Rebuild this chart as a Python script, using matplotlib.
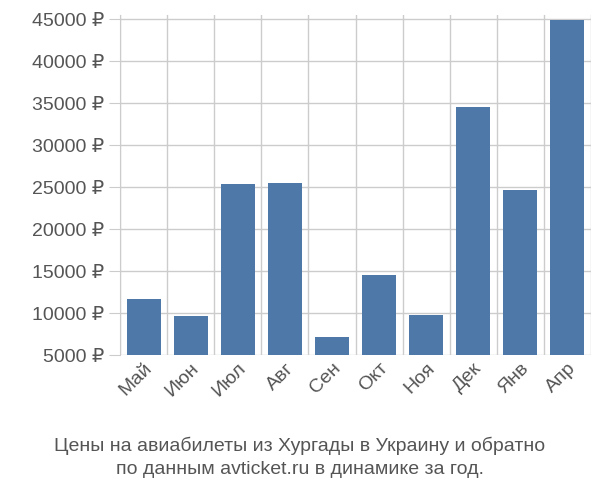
import matplotlib.pyplot as plt
import numpy as np

plt.rcParams['font.family'] = ['Liberation Sans', 'DejaVu Sans']

months = ['Май', 'Июн', 'Июл', 'Авг', 'Сен', 'Окт', 'Ноя', 'Дек', 'Янв', 'Апр']
prices = [11700, 9600, 25350, 25450, 7100, 14500, 9800, 34500, 24650, 44850]
yticks = [5000, 10000, 15000, 20000, 25000, 30000, 35000, 40000, 45000]

fig = plt.figure(figsize=(6, 5), dpi=100)
ax = fig.add_axes([0.2, 0.29, 0.785, 0.68])

x = np.arange(len(months))
ax.bar(x, [p - 5000 for p in prices], bottom=5000, width=0.72, color='#4d78a8', zorder=2)

ax.set_xlim(-0.5, len(months) - 0.5)
ax.set_ylim(5000, 45500)
ax.set_yticks(yticks)
ax.set_yticklabels([f'{v} ₽' for v in yticks], fontsize=14, color='#555555')
ax.set_xticks(x)
ax.set_xticklabels(months, rotation=45, ha='right', rotation_mode='anchor', fontsize=14, color='#555555')
ax.set_xticks(np.arange(len(months) + 1) - 0.5, minor=True)
ax.grid(True, which='minor', axis='x', color='#cccccc', linewidth=1, zorder=0)
ax.grid(True, which='major', axis='y', color='#cccccc', linewidth=1, zorder=0)
ax.tick_params(axis='x', which='both', length=0)
ax.tick_params(axis='y', length=8, color='#cccccc')
for s in ['top', 'right', 'bottom']:
    ax.spines[s].set_visible(False)
ax.spines['left'].set_color('#cccccc')

fig.text(0.5, 0.085, 'Цены на авиабилеты из Хургады в Украину и обратно\nпо данным avticket.ru в динамике за год.',
         ha='center', va='center', fontsize=14, color='#555555', linespacing=1.5)

fig.savefig('out.png', dpi=100)
